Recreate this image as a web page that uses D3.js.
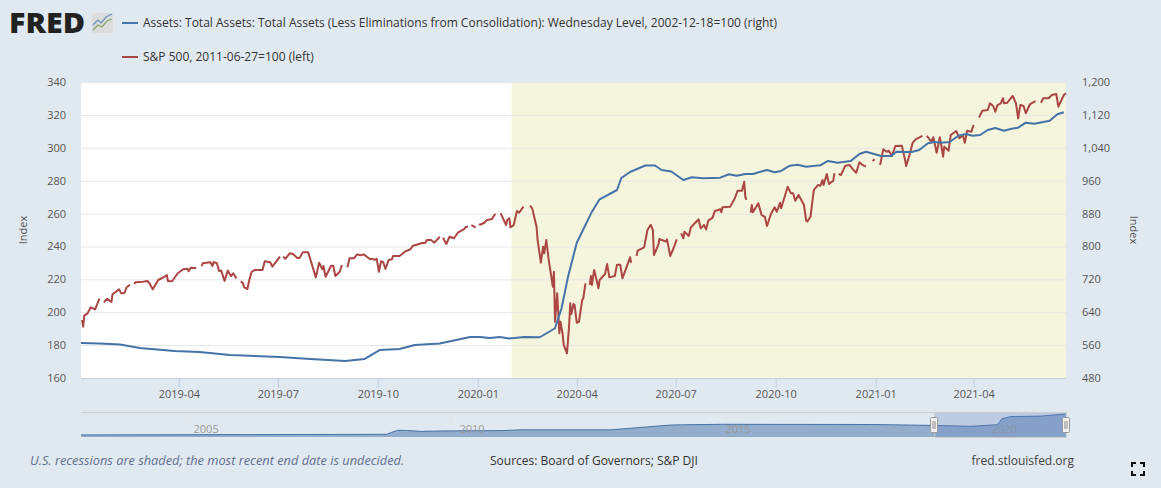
<!DOCTYPE html>
<html><head><meta charset="utf-8">
<script src="https://cdn.jsdelivr.net/npm/d3@7"></script>
<style>
html,body{margin:0;padding:0;background:#e1e9f0;overflow:hidden}
text{font-family:"Open Sans",sans-serif}
</style></head><body><svg id="c" width="1161" height="488"></svg>
<script>
const startDate = "2019-01-01";
const endDay = 906;
const recessionStart = "2020-02-01";
const leftTicks = [160,180,200,220,240,260,280,300,320,340];
const rightTicks = [480,560,640,720,800,880,960,1040,1120,1200];
const monthTicks = ["2019-04-01","2019-07-01","2019-10-01","2020-01-01","2020-04-01","2020-07-01","2020-10-01","2021-01-01","2021-04-01"];
const navYears = [2005,2010,2015,2020];
const assetsLabel = "Assets: Total Assets: Total Assets (Less Eliminations from Consolidation): Wednesday Level, 2002-12-18=100 (right)";
const spLabel = "S&P 500, 2011-06-27=100 (left)";

const sp500Days = [
1,2,3,6,9,13,17,18,
21,24,28,29,35,37,40,42,45,46,
49,50,57,61,63,66,71,77,79,80,84,89,94,98,99,101,106,107,
111,112,119,121,122,125,127,129,132,135,138,140,143,144,
147,149,150,153,155,157,160,167,169,174,176,183,184,
186,188,192,195,199,201,204,209,216,219,222,223,225,230,232,234,238,240,241,
245,247,251,254,257,260,266,268,270,272,274,276,278,280,283,286,287,293,298,303,305,310,313,317,318,322,325,330,331,
333,336,339,343,347,352,354,356,357,
359,363,364,
366,367,371,373,378,381,382,
386,391,392,394,395,398,401,403,407,408,
413,415,419,420,423,425,426,428,430,434,435,436,438,440,441,443,444,447,449,450,451,453,454,456,458,461,462,464,465,
468,469,470,472,476,477,482,484,486,491,493,496,498,502,505,506,507,
511,512,518,521,524,526,527,531,532,538,539,542,545,548,549,
552,554,555,559,561,568,570,573,575,577,581,583,588,589,590,597,601,604,608,610,611,612,613,
616,617,618,623,626,629,631,634,635,638,640,643,644,650,653,655,657,660,665,667,668,671,674,678,680,682,683,686,688,692,693,694,
697,699,703,707,710,713,716,719,722,723,
728,730,731,
735,738,741,743,746,749,755,758,759,762,765,768,774,775,
778,782,784,787,790,793,794,798,800,805,808,811,813,815,819,821,822,
826,829,834,836,839,841,843,846,848,849,852,857,860,862,864,867,869,873,878,879,
883,885,890,893,897,899,904,906
];
const sp500Values = [
195.3,191.2,197.9,199.3,203.0,201.8,208.2,null,
206.0,208.2,206.2,210.9,213.9,211.5,211.7,215.2,216.6,null,
217.2,218.2,218.6,219.0,217.6,213.9,219.6,221.6,222.6,218.8,219.0,223.7,226.1,226.5,224.9,227.1,226.9,null,
228.1,229.8,230.4,228.1,230.5,229.8,225.1,225.3,219.0,225.3,222.0,223.7,220.6,null,
218.8,217.6,215.2,214.1,220.0,224.6,225.7,225.7,231.0,230.4,227.7,233.8,null,
233.8,232.5,235.8,235.4,233.0,233.0,236.4,236.4,221.2,230.1,226.1,228.1,221.6,228.3,228.3,222.0,224.6,228.7,null,
227.3,232.8,232.8,235.2,234.6,235.2,232.2,232.5,231.8,232.5,224.6,231.0,230.4,226.3,231.8,232.2,234.2,234.2,236.8,238.3,240.3,241.3,241.9,242.3,243.9,243.9,242.3,245.9,null,
245.3,241.5,245.9,245.0,248.6,250.4,251.8,252.0,null,
253.0,251.6,null,
253.6,253.2,254.4,255.9,256.7,259.9,null,
260.2,253.0,256.1,257.1,251.6,253.0,261.6,260.5,264.2,null,
264.8,263.2,252.0,243.9,230.1,239.8,235.8,243.9,232.8,215.5,224.6,194.2,211.5,187.2,194.2,186.8,180.1,175.0,192.2,205.4,198.9,205.0,204.4,193.6,194.2,207.4,208.5,217.6,null,
216.6,222.0,216.6,225.7,214.6,219.6,223.2,229.3,221.2,222.0,228.9,228.9,220.6,227.7,233.4,230.1,null,
234.2,237.4,239.5,250.0,253.2,250.0,234.8,240.9,244.5,242.9,244.3,234.2,238.9,244.3,null,
248.0,245.0,249.0,246.4,251.6,256.5,251.0,253.0,250.4,255.7,257.5,261.6,262.6,260.8,263.8,264.2,268.7,273.9,273.9,279.4,270.3,268.3,null,
260.5,265.2,260.8,266.2,259.1,258.0,252.4,258.5,260.2,263.8,261.1,266.6,263.2,276.3,272.3,272.3,267.8,271.3,265.2,255.7,255.1,258.1,274.3,277.4,276.8,280.4,277.4,284.1,278.0,280.0,284.5,null,
284.1,283.4,289.1,289.5,286.9,284.8,291.2,289.5,288.5,null,
292.0,293.0,null,
289.5,299.1,297.6,298.2,295.0,301.1,301.3,292.6,288.9,295.6,303.1,305.3,307.2,null,
307.3,303.7,306.4,297.0,306.4,294.6,300.7,298.2,307.8,310.2,305.8,307.8,303.1,310.4,309.8,313.9,null,
318.3,322.5,323.0,327.0,325.4,321.9,326.0,327.0,330.1,327.0,327.4,331.5,327.0,317.9,326.0,325.4,321.0,326.6,328.4,null,
327.4,330.1,330.1,332.1,332.7,325.0,332.1,333.1
];
const assetDays = [0,17,36,54,86,109,137,183,211,243,261,275,293,307,330,358,367,376,385,394,408,422,436,442,448,456,470,477,493,497,505,519,528,534,543,554,562,572,588,596,603,611,618,631,638,644,652,659,667,680,687,696,708,716,722,736,745,750,764,771,779,785,791,799,807,814,820,827,834,841,849,856,862,869,877,891,898,904];
const assetValues = [565.2,564,561.6,553,545.8,543.4,536,531.2,526.3,521.5,526.3,548.2,550.7,560.4,564,579.8,579.8,577.4,579.8,576,579.8,579.1,601,649.6,726.5,809.1,884.6,914.7,937.3,966.5,981.1,996.9,996.9,986,982.3,961.7,968.2,965.8,967.3,975.5,972.1,976.3,976.3,986,980.4,983.6,996.4,998.9,994,997.4,1007.9,1003.7,1007.9,1024.9,1030.5,1020,1020,1030.5,1029.8,1034.6,1050.9,1054.1,1052.4,1054.1,1069.4,1073.5,1069.4,1071.1,1083.3,1088.1,1081.6,1086.4,1088.9,1101,1098.6,1105.9,1121.4,1126.3];
const navDates = ["2002-12-18","2004-04-15","2006-03-15","2007-09-15","2008-09-17","2008-10-20","2008-12-01","2009-01-30","2009-05-10","2009-09-25","2010-04-15","2010-11-10","2011-03-30","2012-12-05","2014-01-20","2015-01-01","2016-07-01","2017-10-25","2019-01-02","2019-09-10","2020-03-11","2020-04-08","2020-06-10","2021-01-06","2021-05-12","2021-06-23"];
const navValues = [100,108,118,125,132,230,327,318,275,295,305,310,350,350,585,620,615,610,565,522,601,885,997,1020,1100,1126];

const parse = d3.utcParse("%Y-%m-%d");
const t0 = parse(startDate);
const dayDate = d => d3.utcDay.offset(t0, d);
const svg = d3.select("#c");
const L=81,R=1066,T=82,B=378, NT=412,NB=437;
const x = d3.scaleUtc().domain([t0, dayDate(endDay)]).range([L,R]);
const yL = d3.scaleLinear().domain([160,340]).range([B,T]);
const yR = d3.scaleLinear().domain([480,1200]).range([B,T]);
const TXT="#555", GRID="#e6e6e6", AX="#c0d0e0", BLUE="#4572a7", RED="#aa4643";

// plot
svg.append("rect").attr("x",L).attr("y",T).attr("width",R-L).attr("height",B-T).attr("fill","#fff");
svg.append("rect").attr("x",x(parse(recessionStart))).attr("y",T).attr("width",R-x(parse(recessionStart))).attr("height",B-T).attr("fill","#f5f4dc");
svg.append("g").selectAll("line").data(leftTicks.slice(1)).join("line")
  .attr("x1",L).attr("x2",R).attr("y1",d=>yL(d)+.5).attr("y2",d=>yL(d)+.5).attr("stroke",GRID);

// axes
const gx = svg.append("g").attr("transform",`translate(0,${B})`)
  .call(d3.axisBottom(x).tickValues(monthTicks.map(parse)).tickFormat(d3.utcFormat("%Y-%m")).tickSize(10).tickSizeOuter(0));
gx.select(".domain").attr("stroke",AX).attr("d",`M${L},0.5H${R}`);
gx.selectAll(".tick line").attr("stroke",AX);
gx.selectAll("text").attr("fill",TXT).attr("font-size",11).attr("y",12).attr("dy","0.71em").attr("font-family","Open Sans");

const gl = svg.append("g").attr("transform",`translate(${L},0)`)
  .call(d3.axisLeft(yL).tickValues(leftTicks).tickSize(0).tickPadding(15));
gl.select(".domain").remove();
gl.selectAll("text").attr("fill",TXT).attr("font-size",11).attr("font-family","Open Sans");

const gr = svg.append("g").attr("transform",`translate(${R},0)`)
  .call(d3.axisRight(yR).tickValues(rightTicks).tickFormat(d3.format(",")).tickSize(0).tickPadding(16));
gr.select(".domain").remove();
gr.selectAll("text").attr("fill",TXT).attr("font-size",11).attr("font-family","Open Sans");

svg.append("text").text("Index").attr("transform","translate(27,230) rotate(-90)").attr("text-anchor","middle").attr("font-size",11).attr("fill",TXT);
svg.append("text").text("Index").attr("transform","translate(1130,230) rotate(90)").attr("text-anchor","middle").attr("font-size",11).attr("fill",TXT);

// series
const spLine = d3.line().defined((d,i)=>sp500Values[i]!==null).x(d=>x(dayDate(d))).y((d,i)=>yL(sp500Values[i]));
svg.append("path").attr("d",spLine(sp500Days)).attr("fill","none").attr("stroke",RED).attr("stroke-width",2).attr("stroke-linejoin","round");
const asLine = d3.line().x(d=>x(dayDate(d))).y((d,i)=>yR(assetValues[i]));
svg.append("path").attr("d",asLine(assetDays)).attr("fill","none").attr("stroke",BLUE).attr("stroke-width",2).attr("stroke-linejoin","round");

// navigator
const nd = navDates.map(parse);
const xN = d3.scaleUtc().domain([nd[0], nd[nd.length-1]]).range([L,R]);
const yN = d3.scaleLinear().domain([0,1220]).range([NB,NT]);
svg.append("g").selectAll("line").data(navYears).join("line")
  .attr("x1",d=>xN(new Date(Date.UTC(d,0,1)))).attr("x2",d=>xN(new Date(Date.UTC(d,0,1))))
  .attr("y1",NT).attr("y2",NB-10).attr("stroke","#e6ebf0");
svg.append("path").attr("fill",BLUE).attr("fill-opacity",.5)
  .attr("d",d3.area().x((d,i)=>xN(nd[i])).y0(NB).y1(d=>yN(d))(navValues));
svg.append("path").attr("fill","none").attr("stroke",BLUE).attr("stroke-width",1)
  .attr("d",d3.line().x((d,i)=>xN(nd[i])).y(d=>yN(d))(navValues));
svg.append("g").selectAll("text").data(navYears).join("text")
  .attr("x",d=>xN(new Date(Date.UTC(d,0,1)))+4).attr("y",433).text(d=>d)
  .attr("font-size",11).attr("fill","#999");
const selA = x.domain()[0], selB = x.domain()[1];
const sx0 = xN(selA), sx1 = xN(selB);
svg.append("rect").attr("x",sx0).attr("y",NT).attr("width",sx1-sx0).attr("height",NB-NT).attr("fill","#6685c2").attr("fill-opacity",.3);
svg.append("line").attr("x1",L).attr("x2",R).attr("y1",NT+.5).attr("y2",NT+.5).attr("stroke","#ccc");
svg.append("path").attr("d",`M${sx0+.5},${NT}V${NB+.5}H${sx1}V${NT}`).attr("fill","none").attr("stroke","#ccc");
[sx0,sx1].forEach(h=>{
  const g=svg.append("g").attr("transform",`translate(${Math.round(h)},0)`);
  g.append("rect").attr("x",-3.5).attr("y",417.5).attr("width",7).attr("height",15).attr("rx",1).attr("fill","#f2f2f2").attr("stroke","#999");
  g.append("path").attr("d","M-1,421V429M1,421V429").attr("stroke","#888").attr("fill","none");
});

// legend
[[23,BLUE,assetsLabel],[57,RED,spLabel]].forEach(([y,c,t])=>{
  svg.append("line").attr("x1",122).attr("x2",138).attr("y1",y).attr("y2",y).attr("stroke",c).attr("stroke-width",2);
  svg.append("text").attr("x",143).attr("y",y+4).text(t).attr("font-size",12).attr("font-weight",500).attr("fill","#333");
});

// footer
svg.append("text").attr("x",30).attr("y",465).text("U.S. recessions are shaded; the most recent end date is undecided.").attr("font-size",12.8).attr("font-style","italic").attr("fill","#5f6f8f");
svg.append("text").attr("x",490).attr("y",465).text("Sources: Board of Governors; S&P DJI").attr("font-size",12).attr("fill","#333");
svg.append("text").attr("x",1074).attr("y",465).attr("text-anchor","end").text("fred.stlouisfed.org").attr("font-size",12).attr("fill","#444");

// logo
svg.append("text").attr("x",9).attr("y",33).text("FRED").attr("font-family","Roboto, Liberation Sans, sans-serif").attr("font-weight",900).attr("font-size",29).attr("textLength",76).attr("lengthAdjust","spacingAndGlyphs").attr("fill","#222");
const ic=svg.append("g").attr("transform","translate(92,13)");
ic.append("rect").attr("width",21).attr("height",20).attr("rx",2).attr("fill","#dcdcdc");
ic.append("path").attr("d","M1,12L6,7L9,10L14,4L20,1").attr("fill","none").attr("stroke","#6f94c0").attr("stroke-width",1.3);
ic.append("path").attr("d","M1,17L6,12L10,14L15,8L20,6").attr("fill","none").attr("stroke","#84aa6c").attr("stroke-width",1.3);

// fullscreen icon
svg.append("path").attr("d","M1132,467V463H1136M1140,463H1144V467M1144,471V475H1140M1136,475H1132V471").attr("fill","none").attr("stroke","#111").attr("stroke-width",2);
</script></body></html>
